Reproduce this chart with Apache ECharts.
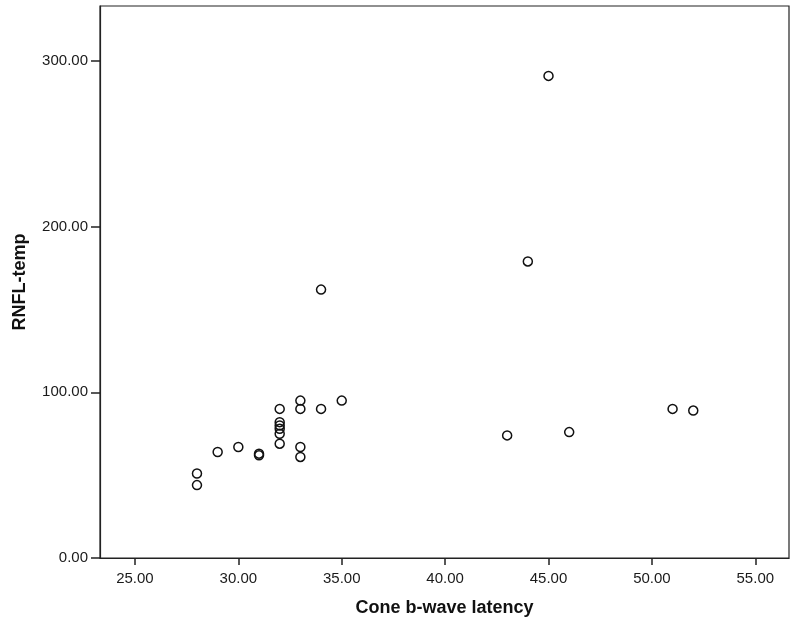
<!DOCTYPE html>
<html>
<head>
<meta charset="utf-8">
<script src="https://cdn.jsdelivr.net/npm/echarts@6/dist/echarts.min.js"></script>
<style>
html,body{margin:0;padding:0;background:#fff;}
#chart{width:796px;height:625px;}
</style>
</head>
<body>
<div id="chart"></div>
<script>
// Data
const coneLatency = [28, 28, 29, 30, 31, 31, 32, 32, 32, 32, 32, 32, 33, 33, 33, 33, 34, 34, 35, 43, 44, 45, 46, 51, 52];
const rnflTemp    = [51, 44, 64, 67, 62, 63, 90, 82, 80, 78, 75, 69, 95, 90, 67, 61, 90, 162, 95, 74, 179, 291, 76, 90, 89];
const xTicks = [25, 30, 35, 40, 45, 50, 55];
const yTicks = [0, 100, 200, 300];
const xName = 'Cone b-wave latency';
const yName = 'RNFL-temp';

const points = coneLatency.map((x, i) => [x, rnflTemp[i]]);

const chart = echarts.init(document.getElementById('chart'), null, {renderer: 'canvas'});
const fontFamily = 'Liberation Sans, Arial, sans-serif';
chart.setOption({
  animation: false,
  backgroundColor: '#ffffff',
  grid: {
    left: 100, right: 7, top: 6, bottom: 67,
    show: true, borderColor: '#222', borderWidth: 1.2, backgroundColor: 'transparent'
  },
  xAxis: {
    type: 'value',
    min: 23.31, max: 56.63,
    name: xName,
    nameLocation: 'middle',
    nameGap: 41,
    nameTextStyle: {fontFamily, fontSize: 18, fontWeight: 'bold', color: '#111'},
    splitLine: {show: false},
    axisLine: {show: true, onZero: false, lineStyle: {color: '#222', width: 1.2}},
    axisTick: {show: true, length: 7, customValues: xTicks, lineStyle: {color: '#222', width: 1.5}},
    axisLabel: {
      customValues: xTicks, margin: 13,
      fontFamily, fontSize: 15, color: '#1a1a1a',
      formatter: v => v.toFixed(2)
    }
  },
  yAxis: {
    type: 'value',
    min: 0, max: 333.2,
    name: yName,
    nameLocation: 'middle',
    nameGap: 71,
    nameTextStyle: {fontFamily, fontSize: 18, fontWeight: 'bold', color: '#111'},
    splitLine: {show: false},
    axisLine: {show: true, onZero: false, lineStyle: {color: '#222', width: 1.2}},
    axisTick: {show: true, length: 9, customValues: yTicks, lineStyle: {color: '#222', width: 1.5}},
    axisLabel: {
      customValues: yTicks, margin: 12,
      fontFamily, fontSize: 15, color: '#1a1a1a',
      formatter: v => v.toFixed(2)
    }
  },
  series: [{
    type: 'scatter',
    data: points,
    symbol: 'circle',
    symbolSize: 9,
    itemStyle: {color: 'transparent', borderColor: '#111', borderWidth: 1.5, opacity: 1},
    emphasis: {disabled: true}
  }]
});
</script>
</body>
</html>
